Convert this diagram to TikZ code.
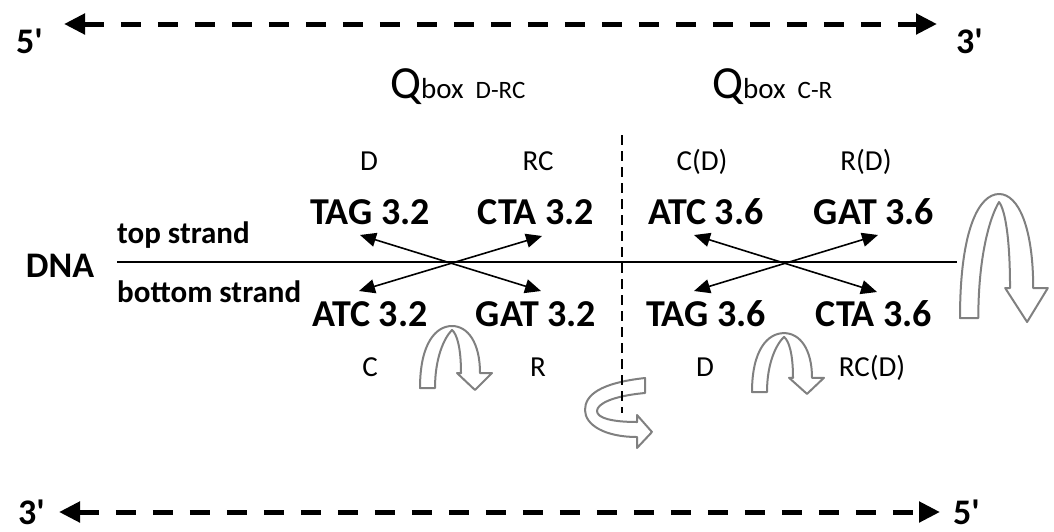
\documentclass[tikz,border=0pt]{standalone}
\usepackage{fontspec}
\setmainfont{Carlito}[Ligatures=TeXOff]
\usetikzlibrary{arrows.meta,positioning}
\definecolor{turngray}{RGB}{128,128,128}
\tikzset{
  seq/.style={font=\fontsize{38}{42}\selectfont\bfseries, anchor=base, inner sep=0pt},
  lab/.style={font=\fontsize{29}{32}\selectfont, anchor=base, inner sep=0pt},
  strandlab/.style={font=\fontsize{31}{34}\selectfont\bfseries, anchor=base west, inner sep=0pt},
  prime/.style={font=\fontsize{36}{40}\selectfont\bfseries, anchor=base west, inner sep=0pt},
  qlab/.style={anchor=base west, inner sep=0pt},
  strandarrow/.style={line width=5pt, dash pattern=on 20pt off 17pt,
    {Triangle[length=21pt,width=20pt]}-{Triangle[length=21pt,width=20pt]}},
  crossarrow/.style={line width=1.6pt,
    {Triangle[length=16pt,width=14pt]}-{Triangle[length=16pt,width=14pt]}},
  turnarrow/.style={draw=turngray, fill=white, line width=2pt, line join=round},
  uturn/.pic={
    \path[turnarrow] (0,0) .. controls (0,-45) and (16,-62) .. (32,-62)
      .. controls (48,-62) and (60,-45) .. (60,-15) -- (72,-15) -- (55,2) -- (37,-15) -- (41,-15)
      .. controls (41,-40) and (37,-54) .. (32,-58)
      .. controls (24,-50) and (15,-30) .. (15,0) -- cycle;
  }
}
\newcommand{\qbox}[1]{\fontsize{46}{48}\selectfont Q\fontsize{29}{32}\selectfont box\hspace{12pt}\fontsize{25}{28}\selectfont #1}
\begin{document}
\begin{tikzpicture}[x=1pt,y=-1pt]
  \useasboundingbox (0,0) rectangle (1054,531);

  \node[prime] (top5) at (16,53) {5'};                          % top 5' end
  \node[prime] (top3) at (956,53) {3'};                         % top 3' end
  \coordinate (topL) at (64,24);
  \coordinate (topR) at (937,24);
  \draw[strandarrow] (topL) -- (topR);                          % top strand direction

  \node[prime] (bot3) at (18,524) {3'};                         % bottom 3' end
  \node[prime] (bot5) at (953,524) {5'};                        % bottom 5' end
  \coordinate (botL) at (59,512);
  \coordinate (botR) at (940,512);
  \draw[strandarrow] (botL) -- (botR);                          % bottom strand direction

  % Qbox titles
  \node[qlab] (qleft) at (390,98) {\qbox{D-RC}};
  \node[qlab] (qright) at (712,98) {\qbox{C-R}};

  % labels above
  \node[lab] (labD) at (369,170) {D};
  \node[lab] (labRC) at (538,170) {RC};
  \node[lab] (labCD) at (702,170) {C(D)};
  \node[lab] (labRD) at (866,170) {R(D)};

  % top row of codons
  \node[seq] (tagA) at (370,224) {TAG 3.2};
  \node[seq] (ctaA) at (536,224) {CTA 3.2};
  \node[seq] (atcB) at (706,224) {ATC 3.6};
  \node[seq] (gatB) at (874,224) {GAT 3.6};

  % bottom row of codons
  \node[seq] (atcA) at (370,326) {ATC 3.2};
  \node[seq] (gatA) at (536,326) {GAT 3.2};
  \node[seq] (tagB) at (706,326) {TAG 3.6};
  \node[seq] (ctaB) at (874,326) {CTA 3.6};

  % labels below
  \node[lab] (labC) at (370,376) {C};
  \node[lab] (labR) at (538,376) {R};
  \node[lab] (labD2) at (705,376) {D};
  \node[lab] (labRCD) at (872,376) {RC(D)};

  % DNA line
  \node[font=\fontsize{36}{40}\selectfont\bfseries, anchor=base, inner sep=0pt] (dna) at (60,277) {DNA};
  \node[strandlab] (topstr) at (117,243) {top strand};
  \node[strandlab] (botstr) at (117,302) {bottom strand};
  \coordinate (lineL) at (117,262);
  \coordinate (lineR) at (957,262);
  \draw[line width=2.8pt] (lineL) -- (lineR);                   % DNA

  % crossing arrows, left box
  \coordinate (tagTip) at (360,235);
  \coordinate (gatTip) at (541,291);
  \coordinate (atcTip) at (359,291);
  \coordinate (ctaTip) at (542,236);
  \draw[crossarrow] (tagTip) -- (gatTip);
  \draw[crossarrow] (atcTip) -- (ctaTip);

  % crossing arrows, right box
  \coordinate (atcTipB) at (694,235);
  \coordinate (ctaTipB) at (877,292);
  \coordinate (tagTipB) at (694,291);
  \coordinate (gatTipB) at (878,235);
  \draw[crossarrow] (atcTipB) -- (ctaTipB);
  \draw[crossarrow] (tagTipB) -- (gatTipB);

  % turn arrows
  \pic at (420,388) {uturn};
  \pic[yscale=0.95] at (752,392) {uturn};
  \pic[xscale=1.22, yscale=2] at (960,318) {uturn};
  \path[turnarrow] (645,378) -- (645,393) .. controls (612,396) and (597,404) .. (597,411)
    .. controls (597,418) and (612,422) .. (637,422) -- (637,415) -- (652,432) -- (637,448) -- (637,437)
    .. controls (605,437) and (585,425) .. (585,410)
    .. controls (585,395) and (600,383) .. (645,378) -- cycle;   % rotation arrow

  \coordinate (midTop) at (622,135);
  \coordinate (midBot) at (622,413);
  \draw[line width=2pt, dash pattern=on 10pt off 6pt] (midTop) -- (midBot);   % box boundary
\end{tikzpicture}
\end{document}
